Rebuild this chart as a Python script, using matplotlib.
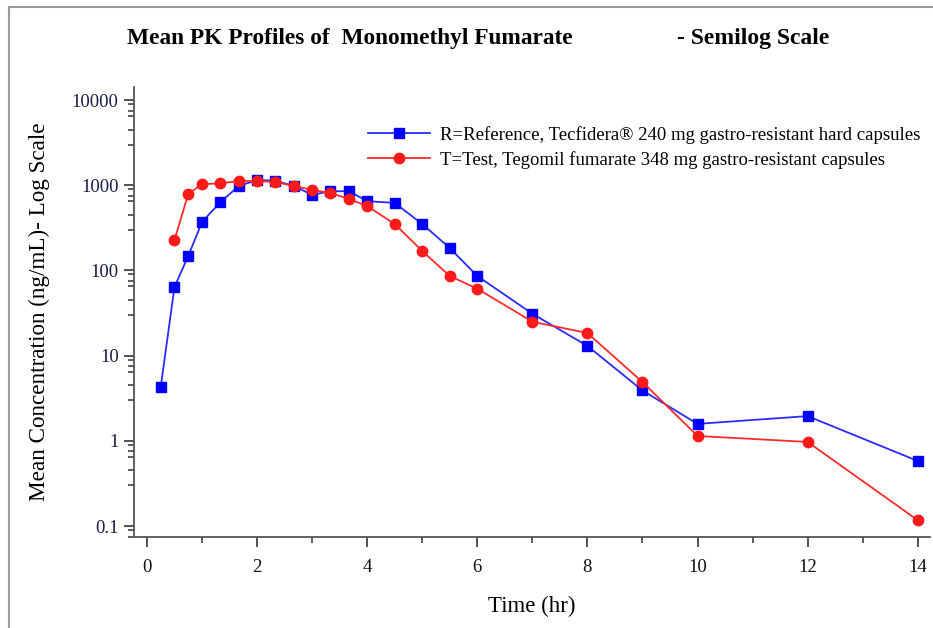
import matplotlib
matplotlib.use("Agg")
from matplotlib import pyplot as plt
from matplotlib.lines import Line2D
from matplotlib.ticker import LogLocator, FixedLocator, NullFormatter, FixedFormatter
import numpy as np

################################################################################
### Data
################################################################################
time_ref = [0.25, 0.5, 0.75, 1, 1.33, 1.67, 2, 2.33, 2.67, 3, 3.33, 3.67, 4, 4.5,
            5, 5.5, 6, 7, 8, 9, 10, 12, 14]
conc_ref = [4.3, 64, 148, 370, 630, 980, 1150, 1130, 980, 770, 850, 850, 650, 620,
            350, 183, 86, 31, 13, 3.9, 1.58, 1.95, 0.58]

time_test = [0.5, 0.75, 1, 1.33, 1.67, 2, 2.33, 2.67, 3, 3.33, 3.67, 4, 4.5,
             5, 5.5, 6, 7, 8, 9, 10, 12, 14]
conc_test = [227, 790, 1030, 1050, 1120, 1120, 1090, 980, 880, 810, 690, 570, 350,
             169, 86, 61, 25, 18.4, 4.9, 1.14, 0.97, 0.117]

label_ref = "R=Reference, Tecfidera\u00ae 240 mg gastro-resistant hard capsules"
label_test = "T=Test, Tegomil fumarate 348 mg gastro-resistant capsules"

x_ticks = [0, 2, 4, 6, 8, 10, 12, 14]
y_ticks = [0.1, 1, 10, 100, 1000, 10000]
y_ticklabels = ["0.1", "1", "10", "100", "1000", "10000"]

################################################################################
### Plot
################################################################################
plt.rcParams['font.family'] = ['Liberation Serif', 'DejaVu Serif']

fig = plt.figure(figsize=(9.33, 6.28), dpi=100)
ax = fig.add_axes([0.1436, 0.1449, 0.853, 0.7166])

ax.plot(time_ref, conc_ref, color='#2a2aff', lw=1.3, marker='s', ms=7,
        mfc='#0000ff', mec='#0000ff', label=label_ref)
ax.plot(time_test, conc_test, color='#ff2a2a', lw=1.3, marker='o', ms=7.5,
        mfc='#ff1a1a', mec='#ff1a1a', label=label_test)

ax.set_yscale('log')
ax.set_xlim(-0.236, 14.22)
ax.set_ylim(0.0743, 14220)

ax.xaxis.set_major_locator(FixedLocator(x_ticks))
ax.xaxis.set_minor_locator(FixedLocator([1, 3, 5, 7, 9, 11, 13]))
ax.yaxis.set_major_locator(FixedLocator(y_ticks))
ax.yaxis.set_major_formatter(FixedFormatter(y_ticklabels))
ax.yaxis.set_minor_locator(LogLocator(base=10, subs=[3, 4.5, 6.5, 7.5, 9]))
ax.yaxis.set_minor_formatter(NullFormatter())

for s in ['top', 'right']:
    ax.spines[s].set_visible(False)
for s in ['left', 'bottom']:
    ax.spines[s].set_color('#555555')
    ax.spines[s].set_linewidth(1.3)

ax.tick_params(which='major', direction='out', length=7, width=1.3, color='#444444',
               labelsize=13.5, pad=4)
ax.tick_params(which='minor', direction='out', length=4, width=1.2, color='#444444')
ax.tick_params(axis='y', labelcolor='#1c1c48')
ax.tick_params(axis='x', labelcolor='#111111', pad=9)

ax.set_xlabel('Time (hr)', fontsize=16.5, labelpad=14)
ax.set_ylabel('Mean Concentration (ng/mL)- Log Scale', fontsize=16.7, labelpad=16)

ax.legend(loc='upper left', bbox_to_anchor=(0.285, 0.93), frameon=False,
          fontsize=13.5, handlelength=3.3, handletextpad=0.55, labelspacing=0.38,
          borderaxespad=0)

fig.text(0.375, 0.939, 'Mean PK Profiles of  Monomethyl Fumarate', fontsize=16.8,
         fontweight='bold', ha='center', va='center')
fig.text(0.807, 0.939, '- Semilog Scale', fontsize=17, fontweight='bold',
         ha='center', va='center')

# thin grey frame on the left and top edges like the source screenshot
fig.add_artist(Line2D([9 / 933, 9 / 933], [0, 1 - 7 / 628], transform=fig.transFigure,
                      color='#999999', lw=1.5))
fig.add_artist(Line2D([9 / 933, 1], [1 - 7 / 628, 1 - 7 / 628], transform=fig.transFigure,
                      color='#999999', lw=1.5))

fig.savefig('out.png', dpi=100)
